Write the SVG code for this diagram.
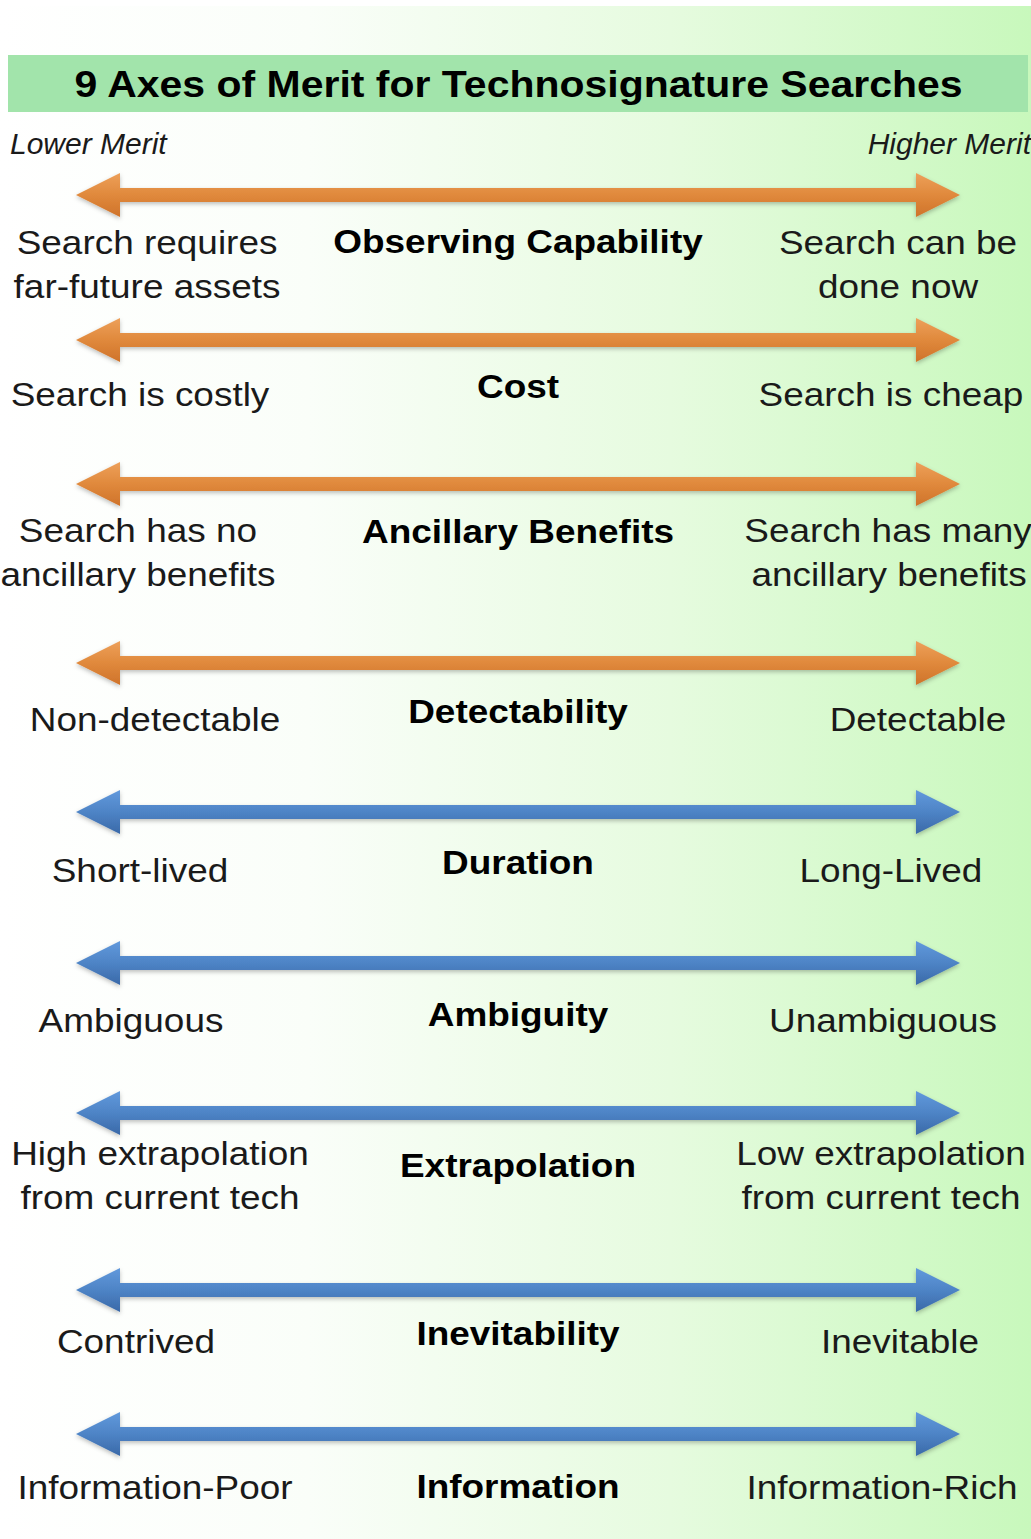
<svg xmlns="http://www.w3.org/2000/svg" width="1031" height="1539" viewBox="0 0 1031 1539">
<style>
.r{font-family:"Liberation Sans",Arial,sans-serif;font-size:33px;fill:#1a1a1a;text-anchor:middle}
.b{font-family:"Liberation Sans",Arial,sans-serif;font-size:33px;font-weight:bold;fill:#000;text-anchor:middle}
.t{font-family:"Liberation Sans",Arial,sans-serif;font-size:36.6px;font-weight:bold;fill:#000;text-anchor:middle}
.i{font-family:"Liberation Sans",Arial,sans-serif;font-size:30px;font-style:italic;fill:#1a1a1a}
.ao{fill:url(#gOr);filter:url(#sh)}
.ab{fill:url(#gBl);filter:url(#sh)}
</style>
<defs>
<linearGradient id="bg" x1="0" y1="0" x2="1" y2="0">
<stop offset="0" stop-color="#ffffff"/>
<stop offset="0.3" stop-color="#fafef9"/>
<stop offset="0.65" stop-color="#e6fbdf"/>
<stop offset="1" stop-color="#c8f8bc"/>
</linearGradient>
<linearGradient id="gOr" x1="0" y1="0" x2="0" y2="1">
<stop offset="0" stop-color="#eda05a"/>
<stop offset="0.5" stop-color="#e0893c"/>
<stop offset="1" stop-color="#cf732a"/>
</linearGradient>
<linearGradient id="gBl" x1="0" y1="0" x2="0" y2="1">
<stop offset="0" stop-color="#6199dc"/>
<stop offset="0.5" stop-color="#4e84c6"/>
<stop offset="1" stop-color="#3a69a8"/>
</linearGradient>
<filter id="sh" x="-5%" y="-50%" width="110%" height="200%">
<feDropShadow dx="0" dy="2" stdDeviation="2" flood-color="#000" flood-opacity="0.25"/>
</filter>
<path id="arr" d="M76,0 L120,-22 L120,-7 L916,-7 L916,-22 L960,0 L916,22 L916,7 L120,7 L120,22 Z"/>
</defs>
<rect x="0" y="0" width="1031" height="1539" fill="#ffffff"/>
<rect x="0" y="6" width="1031" height="1533" fill="url(#bg)"/>
<g id="title">
<rect x="8" y="55" width="1020" height="57" fill="#a2e4ab"/>
<text class="t" transform="scale(1.12 1)" x="463" y="97">9 Axes of Merit for Technosignature Searches</text>
</g>
<g id="merit-labels">
<text class="i" x="10" y="154">Lower Merit</text>
<text class="i" x="1031" y="154" text-anchor="end">Higher Merit</text>
</g>
<g id="connectors">
<use href="#arr" class="ao" transform="translate(0,195)"/>
<use href="#arr" class="ao" transform="translate(0,340)"/>
<use href="#arr" class="ao" transform="translate(0,484)"/>
<use href="#arr" class="ao" transform="translate(0,663)"/>
<use href="#arr" class="ab" transform="translate(0,812)"/>
<use href="#arr" class="ab" transform="translate(0,963)"/>
<use href="#arr" class="ab" transform="translate(0,1113)"/>
<use href="#arr" class="ab" transform="translate(0,1290)"/>
<use href="#arr" class="ab" transform="translate(0,1434)"/>
</g>
<g id="axis-observing" transform="scale(1.12 1)">
<text class="r" x="131.3" y="254">Search requires</text>
<text class="r" x="131.3" y="298">far-future assets</text>
<text class="b" x="462.5" y="253">Observing Capability</text>
<text class="r" x="801.8" y="254">Search can be</text>
<text class="r" x="801.8" y="298">done now</text>
</g>
<g id="axis-cost" transform="scale(1.12 1)">
<text class="r" x="125" y="406">Search is costly</text>
<text class="b" x="462.5" y="398">Cost</text>
<text class="r" x="795.5" y="406">Search is cheap</text>
</g>
<g id="axis-ancillary" transform="scale(1.12 1)">
<text class="r" x="123.2" y="542">Search has no</text>
<text class="r" x="123.2" y="586">ancillary benefits</text>
<text class="b" x="462.5" y="543">Ancillary Benefits</text>
<text class="r" x="792.9" y="542">Search has many</text>
<text class="r" x="793.8" y="586">ancillary benefits</text>
</g>
<g id="axis-detectability" transform="scale(1.12 1)">
<text class="r" x="138.4" y="731">Non-detectable</text>
<text class="b" x="462.5" y="723">Detectability</text>
<text class="r" x="819.6" y="731">Detectable</text>
</g>
<g id="axis-duration" transform="scale(1.12 1)">
<text class="r" x="125" y="882">Short-lived</text>
<text class="b" x="462.5" y="874">Duration</text>
<text class="r" x="795.5" y="882">Long-Lived</text>
</g>
<g id="axis-ambiguity" transform="scale(1.12 1)">
<text class="r" x="117" y="1032">Ambiguous</text>
<text class="b" x="462.5" y="1026">Ambiguity</text>
<text class="r" x="788.4" y="1032">Unambiguous</text>
</g>
<g id="axis-extrapolation" transform="scale(1.12 1)">
<text class="r" x="142.9" y="1165">High extrapolation</text>
<text class="r" x="142.9" y="1209">from current tech</text>
<text class="b" x="462.5" y="1177">Extrapolation</text>
<text class="r" x="786.6" y="1165">Low extrapolation</text>
<text class="r" x="786.6" y="1209">from current tech</text>
</g>
<g id="axis-inevitability" transform="scale(1.12 1)">
<text class="r" x="121.4" y="1353">Contrived</text>
<text class="b" x="462.5" y="1345">Inevitability</text>
<text class="r" x="803.6" y="1353">Inevitable</text>
</g>
<g id="axis-information" transform="scale(1.12 1)">
<text class="r" x="138.4" y="1499">Information-Poor</text>
<text class="b" x="462.5" y="1498">Information</text>
<text class="r" x="787.5" y="1499">Information-Rich</text>
</g>
</svg>
